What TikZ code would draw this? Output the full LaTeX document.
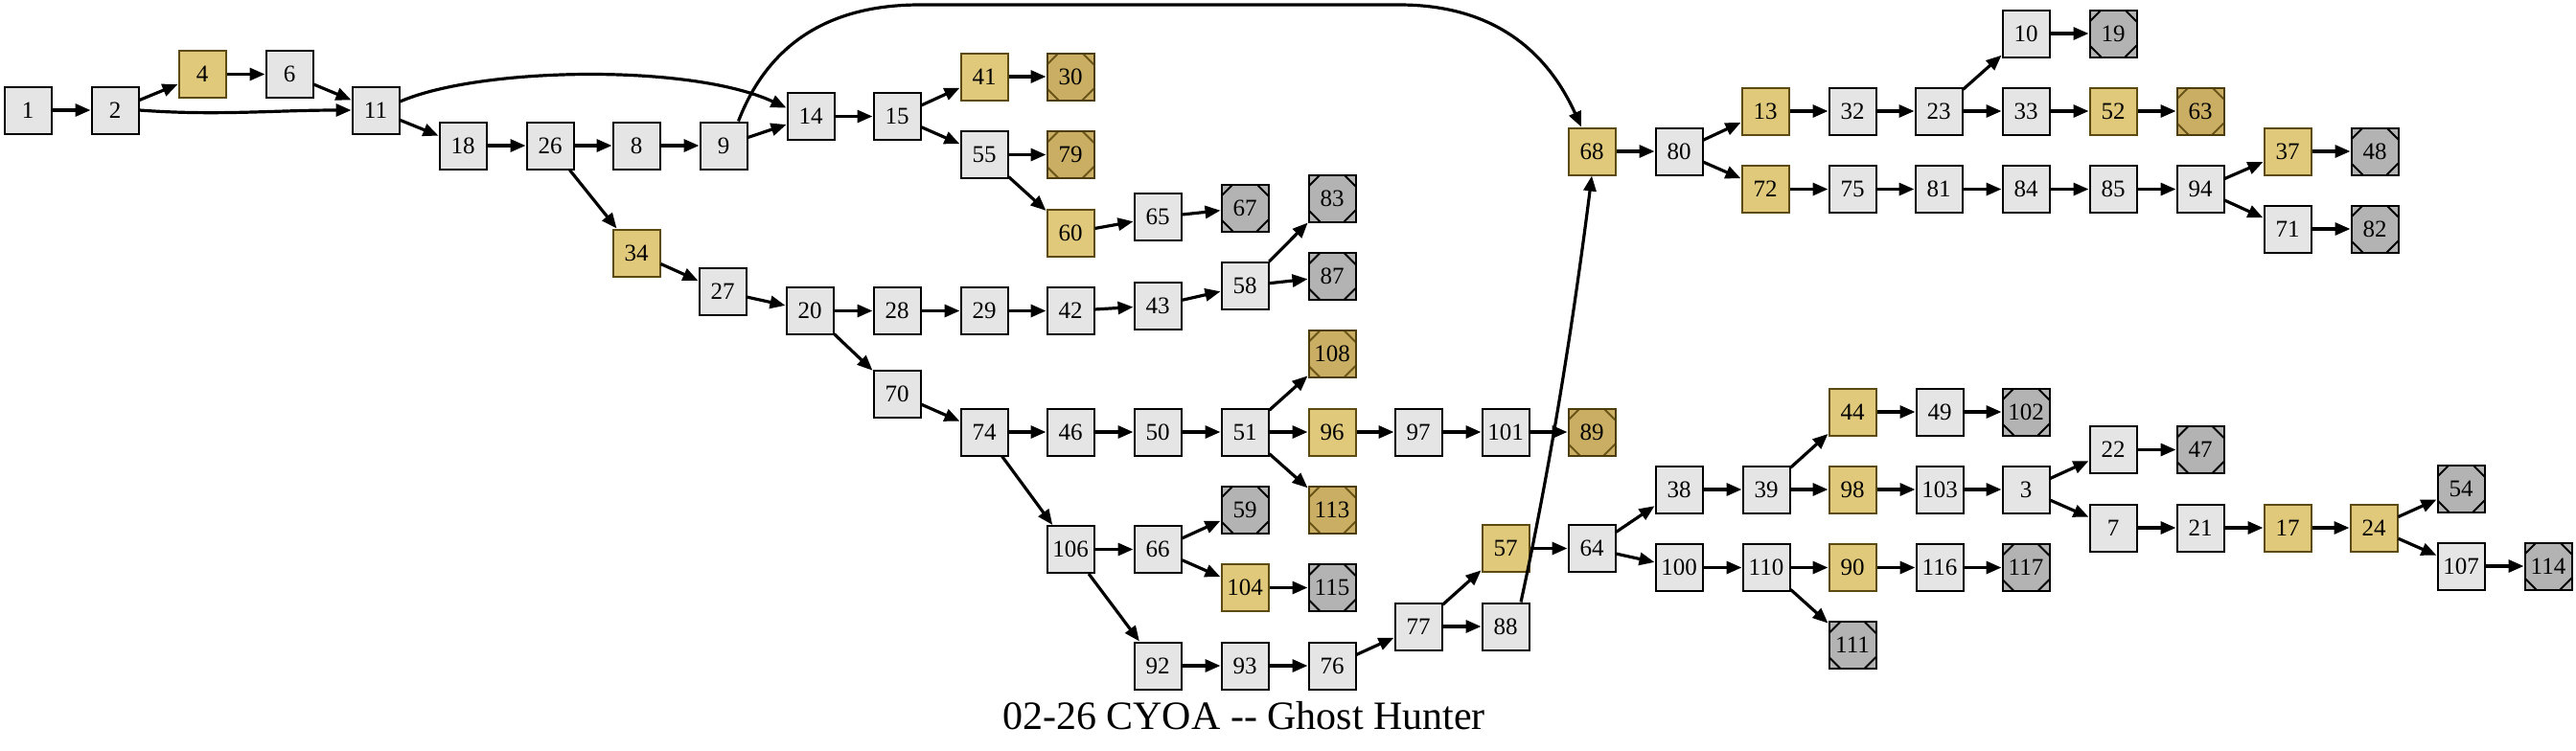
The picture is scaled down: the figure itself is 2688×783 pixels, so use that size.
\documentclass[tikz,border=0pt]{standalone}
\usepackage{fontspec}
\setmainfont{Liberation Serif}
\usetikzlibrary{arrows.meta,calc}
\definecolor{ngray}{HTML}{E5E5E5}
\definecolor{goldf}{HTML}{E1C97B}
\definecolor{goldd}{HTML}{5C4A10}
\definecolor{gendf}{HTML}{C9AE64}
\definecolor{gendd}{HTML}{4D3C0C}
\definecolor{gendl}{HTML}{6B5418}
\definecolor{xendf}{HTML}{B3B3B3}
\begin{document}
\begin{tikzpicture}[x=0.5pt,y=-0.5pt,
  box/.style={draw=black,fill=ngray,line width=1pt,minimum size=24.5pt,inner sep=0pt,font=\fontsize{12.5}{12.5}\selectfont},
  gold/.style={box,fill=goldf,draw=goldd},
  msq/.style={path picture={
    \draw[line width=1pt,#1]
      ($(path picture bounding box.north west)+(0pt,-6pt)$) -- ($(path picture bounding box.north west)+(6pt,0pt)$)
      ($(path picture bounding box.north east)+(0pt,-6pt)$) -- ($(path picture bounding box.north east)+(-6pt,0pt)$)
      ($(path picture bounding box.south west)+(0pt,6pt)$) -- ($(path picture bounding box.south west)+(6pt,0pt)$)
      ($(path picture bounding box.south east)+(0pt,6pt)$) -- ($(path picture bounding box.south east)+(-6pt,0pt)$);}},
  gend/.style={box,fill=gendf,draw=gendd,msq=gendl},
  xend/.style={box,fill=xendf,msq=black},
  e/.style={-{Triangle[length=8pt,width=6.5pt]},line width=1.6pt}
]
\useasboundingbox (0,0) rectangle (2688,783);
% nodes
\node[box] (n1) at (29,115) {1};
\node[box] (n2) at (120,115) {2};
\node[gold] (n4) at (211,77.5) {4};
\node[box] (n6) at (302,77.5) {6};
\node[box] (n11) at (392,115) {11};
\node[box] (n18) at (483,152) {18};
\node[box] (n26) at (574,152) {26};
\node[box] (n8) at (664,152) {8};
\node[box] (n9) at (755,152) {9};
\node[box] (n14) at (846,121.5) {14};
\node[box] (n15) at (936,121.5) {15};
\node[gold] (n41) at (1027,80) {41};
\node[gend] (n30) at (1117,80) {30};
\node[box] (n55) at (1027,161.5) {55};
\node[gend] (n79) at (1117,161.5) {79};
\node[gold] (n60) at (1117,243) {60};
\node[box] (n65) at (1208,226.7) {65};
\node[xend] (n67) at (1299,217) {67};
\node[xend] (n83) at (1390,207) {83};
\node[xend] (n87) at (1390,288.5) {87};
\node[box] (n58) at (1299,298.5) {58};
\node[gold] (n34) at (664,264) {34};
\node[box] (n27) at (754,304.5) {27};
\node[box] (n20) at (845,324.5) {20};
\node[box] (n28) at (936,324.5) {28};
\node[box] (n29) at (1027,324.5) {29};
\node[box] (n42) at (1117,324.5) {42};
\node[box] (n43) at (1208,319) {43};
\node[box] (n70) at (936,411) {70};
\node[box] (n74) at (1027,451) {74};
\node[box] (n46) at (1117,451) {46};
\node[box] (n50) at (1208,451) {50};
\node[box] (n51) at (1299,451) {51};
\node[gend] (n108) at (1390,369.5) {108};
\node[gold] (n96) at (1390,451) {96};
\node[gend] (n113) at (1390,532) {113};
\node[box] (n97) at (1480,451) {97};
\node[box] (n101) at (1571,451) {101};
\node[gend] (n89) at (1661,451) {89};
\node[box] (n106) at (1117,573.5) {106};
\node[box] (n66) at (1208,573.5) {66};
\node[xend] (n59) at (1299,532) {59};
\node[gold] (n104) at (1299,613.5) {104};
\node[xend] (n115) at (1390,613.5) {115};
\node[box] (n92) at (1208,695) {92};
\node[box] (n93) at (1299,695) {93};
\node[box] (n76) at (1390,695) {76};
\node[box] (n77) at (1480,654) {77};
\node[gold] (n57) at (1571,572.5) {57};
\node[box] (n88) at (1571,654) {88};
\node[box] (n64) at (1661,572.5) {64};
\node[gold] (n68) at (1661,158) {68};
\node[box] (n80) at (1752,158) {80};
\node[gold] (n13) at (1842,116) {13};
\node[gold] (n72) at (1842,197.5) {72};
\node[box] (n32) at (1933,116) {32};
\node[box] (n23) at (2023,116) {23};
\node[box] (n10) at (2114,35) {10};
\node[xend] (n19) at (2205,35) {19};
\node[box] (n33) at (2114,116) {33};
\node[gold] (n52) at (2205,116) {52};
\node[gend] (n63) at (2296,116) {63};
\node[box] (n75) at (1933,197.5) {75};
\node[box] (n81) at (2023,197.5) {81};
\node[box] (n84) at (2114,197.5) {84};
\node[box] (n85) at (2205,197.5) {85};
\node[box] (n94) at (2296,197.5) {94};
\node[gold] (n37) at (2387,158) {37};
\node[xend] (n48) at (2478,158) {48};
\node[box] (n71) at (2387,239) {71};
\node[xend] (n82) at (2478,239) {82};
\node[box] (n38) at (1752,511) {38};
\node[box] (n39) at (1843,511) {39};
\node[gold] (n44) at (1933,430) {44};
\node[box] (n49) at (2024,430) {49};
\node[xend] (n102) at (2114,430) {102};
\node[gold] (n98) at (1933,511) {98};
\node[box] (n103) at (2024,511) {103};
\node[box] (n3) at (2114,511) {3};
\node[box] (n22) at (2205,469.5) {22};
\node[xend] (n47) at (2296,469.5) {47};
\node[box] (n7) at (2205,551) {7};
\node[box] (n21) at (2296,551) {21};
\node[gold] (n17) at (2387,551) {17};
\node[gold] (n24) at (2477,551) {24};
\node[xend] (n54) at (2568,510) {54};
\node[box] (n107) at (2568,591) {107};
\node[xend] (n114) at (2659,591) {114};
\node[box] (n100) at (1752,592.5) {100};
\node[box] (n110) at (1843,592.5) {110};
\node[gold] (n90) at (1933,592.5) {90};
\node[box] (n116) at (2024,592.5) {116};
\node[xend] (n117) at (2114,592.5) {117};
\node[xend] (n111) at (1933,673.5) {111};
% title
\node[font=\fontsize{21}{21}\selectfont,inner sep=0pt] (title) at (1298,747) {02-26 CYOA -\kern0pt- Ghost Hunter};
% straight edges
\foreach \a/\b in {1/2,2/4,4/6,6/11,11/18,18/26,26/8,8/9,9/14,26/34,34/27,14/15,15/41,15/55,41/30,55/79,55/60,60/65,65/67,
  27/20,20/28,28/29,29/42,42/43,43/58,58/83,58/87,20/70,70/74,74/46,46/50,50/51,51/108,51/96,51/113,96/97,97/101,101/89,
  74/106,106/66,66/59,66/104,104/115,106/92,92/93,93/76,76/77,77/57,77/88,57/64,64/38,64/100,38/39,39/44,39/98,44/49,49/102,
  98/103,103/3,3/22,3/7,22/47,7/21,21/17,17/24,24/54,24/107,107/114,100/110,110/90,110/111,90/116,116/117,
  68/80,80/13,80/72,13/32,32/23,23/10,23/33,10/19,33/52,52/63,72/75,75/81,81/84,84/85,85/94,94/37,94/71,37/48,71/82}
  \draw[e] (n\a) -- (n\b);
% curved edges
\draw[e] (n2.east) .. controls +(80,6) and +(-80,0) .. (n11.west);
\draw[e] ([yshift=4.5pt]n11.east) .. controls (500,70) and (720,66) .. ([yshift=4.5pt]n14.west);
\draw[e] ([xshift=-5pt]n9.north east) .. controls (800,50) and (860,5) .. (960,5) -- (1460,5) .. controls (1560,5) and (1615,55) .. ([xshift=-5.5pt]n68.north);
\draw[e] ([xshift=8pt]n88.north) .. controls (1615,500) and (1640,350) .. (n68.south);
\end{tikzpicture}
\end{document}
